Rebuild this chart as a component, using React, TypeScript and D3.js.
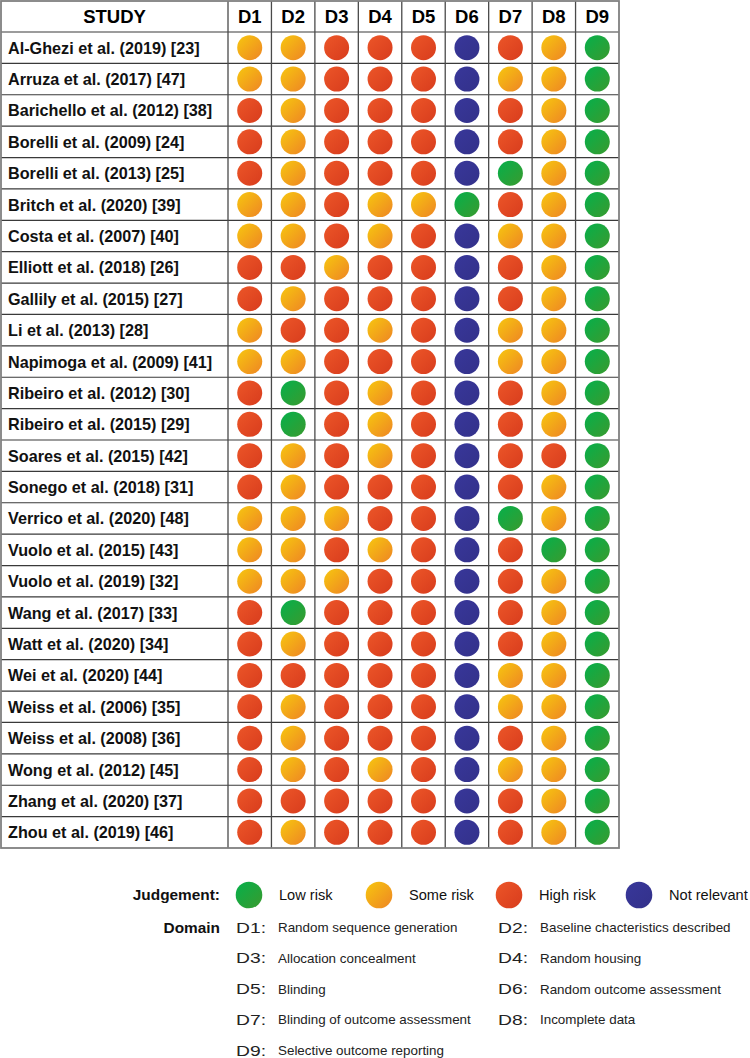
import React from "react";
import * as d3 from "d3";

const studies = [
  "Al-Ghezi et al. (2019) [23]",
  "Arruza et al. (2017) [47]",
  "Barichello et al. (2012) [38]",
  "Borelli et al. (2009) [24]",
  "Borelli et al. (2013) [25]",
  "Britch et al. (2020) [39]",
  "Costa et al. (2007) [40]",
  "Elliott et al. (2018) [26]",
  "Gallily et al. (2015) [27]",
  "Li et al. (2013) [28]",
  "Napimoga et al. (2009) [41]",
  "Ribeiro et al. (2012) [30]",
  "Ribeiro et al. (2015) [29]",
  "Soares et al. (2015) [42]",
  "Sonego et al. (2018) [31]",
  "Verrico et al. (2020) [48]",
  "Vuolo et al. (2015) [43]",
  "Vuolo et al. (2019) [32]",
  "Wang et al. (2017) [33]",
  "Watt et al. (2020) [34]",
  "Wei et al. (2020) [44]",
  "Weiss et al. (2006) [35]",
  "Weiss et al. (2008) [36]",
  "Wong et al. (2012) [45]",
  "Zhang et al. (2020) [37]",
  "Zhou et al. (2019) [46]",
];

const domains = ["D1", "D2", "D3", "D4", "D5", "D6", "D7", "D8", "D9"];

// L = low risk, S = some risk, H = high risk, N = not relevant (D1..D9)
const judgements = [
  "SSHHHNHSL",
  "SSHHHNSSL",
  "HSHHHNHSL",
  "HSHHHNHSL",
  "HSHHHNLSL",
  "SSHSSLHSL",
  "SSHSHNSSL",
  "HHSHHNHSL",
  "HSHHHNHSL",
  "SHHSHNSSL",
  "SSHHHNSSL",
  "HLHSHNHSL",
  "HLHSHNHSL",
  "HSHSHNHHL",
  "HSHHHNHSL",
  "SSSHHNLSL",
  "SSHSHNHLL",
  "SSSHHNHSL",
  "HLHHHNHSL",
  "HSHHHNHSL",
  "HHHHHNSSL",
  "HSHHHNSSL",
  "HSHHHNHSL",
  "HSHSHNSSL",
  "HHHHHNHSL",
  "HSHHHNHSL",
];

const levelCodes = ["L", "S", "H", "N"];
const levelLabels = ["Low risk", "Some risk", "High risk", "Not relevant"];

const domainCodes = ["D1:", "D2:", "D3:", "D4:", "D5:", "D6:", "D7:", "D8:", "D9:"];
const domainDescriptions = [
  "Random sequence generation",
  "Baseline chacteristics described",
  "Allocation concealment",
  "Random housing",
  "Blinding",
  "Random outcome assessment",
  "Blinding of outcome assessment",
  "Incomplete data",
  "Selective outcome reporting",
];

const gradStops: Record<string, [string, string]> = {
  L: ["#05b04b", "#3a9a2e"],
  S: ["#f7c70f", "#ee8524"],
  H: ["#ec5628", "#d83c1d"],
  N: ["#38379a", "#33318a"],
};

const FONT = "'Liberation Sans', Arial, Helvetica, sans-serif";

export default function App() {
  const W = 750;
  const H = 1058;
  const tableLeft = 1;
  const tableTop = 1;
  const studyRight = 228;
  const tableRight = 619;
  const headerBottom = 32;
  const tableBottom = 848;

  const x = d3.scaleBand<string>().domain(domains).range([studyRight, tableRight]);
  const y = d3.scaleBand<string>().domain(studies).range([headerBottom, tableBottom]);
  const r = 12.5;

  const legX = d3.scalePoint<string>().domain(levelCodes).range([249, 639]);
  const legRowY = d3.scaleLinear().domain([0, 4]).range([927, 1050]);

  const hLines = [tableTop, headerBottom, ...studies.map((s) => (y(s) as number) + y.bandwidth())];
  const vLines = [tableLeft, studyRight, ...domains.map((d) => (x(d) as number) + x.bandwidth())];

  return (
    <svg
      width={W}
      height={H}
      style={{ position: "absolute", left: 0, top: 0, background: "#fff" }}
      fontFamily={FONT}
    >
      <defs>
        {levelCodes.map((c) => (
          <linearGradient key={c} id={`g-${c}`} x1="0" y1="0" x2="1" y2="1">
            <stop offset="0%" stopColor={gradStops[c][0]} />
            <stop offset="100%" stopColor={gradStops[c][1]} />
          </linearGradient>
        ))}
      </defs>
      <rect x={0} y={0} width={W} height={H} fill="#fff" />

      {hLines.slice(1, -1).map((yy, i) => (
        <line key={`h${i}`} x1={tableLeft} x2={tableRight} y1={yy} y2={yy} stroke="#3a3a3a" strokeWidth={1.2} />
      ))}
      {vLines.slice(1, -1).map((xx, i) => (
        <line key={`v${i}`} x1={xx} x2={xx} y1={tableTop} y2={tableBottom} stroke="#4a4a4a" strokeWidth={1.3} />
      ))}
      <rect
        x={tableLeft}
        y={tableTop}
        width={tableRight - tableLeft}
        height={tableBottom - tableTop}
        fill="none"
        stroke="#808080"
        strokeWidth={1.8}
      />

      <text
        x={(tableLeft + studyRight) / 2}
        y={headerBottom / 2 + 7}
        textAnchor="middle"
        fontWeight="bold"
        fontSize={18.5}
        fill="#000"
      >
        STUDY
      </text>
      {domains.map((d) => (
        <text
          key={d}
          x={(x(d) as number) + x.bandwidth() / 2}
          y={headerBottom / 2 + 7}
          textAnchor="middle"
          fontWeight="bold"
          fontSize={18.5}
          fill="#000"
        >
          {d}
        </text>
      ))}

      {studies.map((s, i) => {
        const cy = (y(s) as number) + y.bandwidth() / 2;
        return (
          <g key={s}>
            <text x={8} y={cy + 6} fontWeight="bold" fontSize={16.2} fill="#111">
              {s}
            </text>
            {domains.map((d, j) => {
              const code = judgements[i][j];
              return (
                <circle
                  key={d}
                  cx={(x(d) as number) + x.bandwidth() / 2}
                  cy={cy}
                  r={r}
                  fill={`url(#g-${code})`}
                />
              );
            })}
          </g>
        );
      })}

      <text x={220} y={900} textAnchor="end" fontWeight="bold" fontSize={15.4} fill="#111">
        Judgement:
      </text>
      {levelCodes.map((c, i) => (
        <g key={c}>
          <circle cx={legX(c) as number} cy={895} r={13.3} fill={`url(#g-${c})`} />
          <text x={(legX(c) as number) + 30} y={900} fontSize={14.6} fill="#111">
            {levelLabels[i]}
          </text>
        </g>
      ))}

      <text x={220} y={legRowY(0) + 5.5} textAnchor="end" fontWeight="bold" fontSize={15.4} fill="#111">
        Domain
      </text>
      {domainCodes.map((c, i) => {
        const col = i % 2;
        const row = Math.floor(i / 2);
        const baseX = col === 0 ? 236 : 498;
        const yy = legRowY(row) + 5.5;
        return (
          <g key={c}>
            <text x={baseX} y={yy} fontSize={15} fill="#222" textLength={30} lengthAdjust="spacingAndGlyphs">
              {c}
            </text>
            <text x={baseX + 42} y={yy - 0.5} fontSize={13.4} fill="#222">
              {domainDescriptions[i]}
            </text>
          </g>
        );
      })}
    </svg>
  );
}
